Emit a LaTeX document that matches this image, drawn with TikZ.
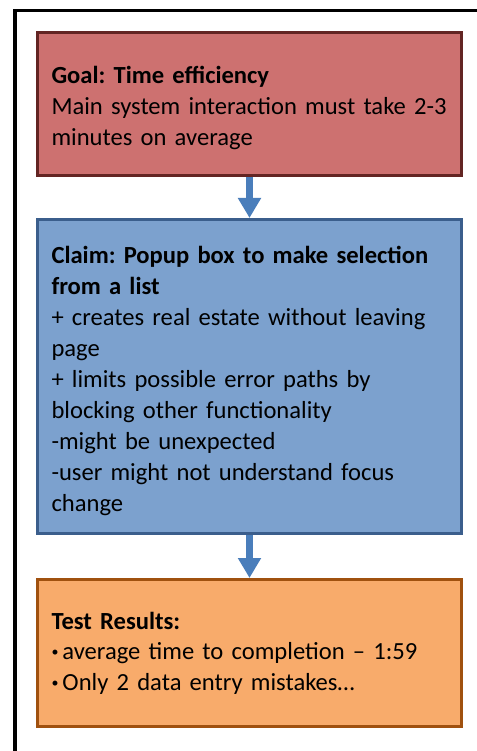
\documentclass[tikz,border=0pt]{standalone}
\usepackage{fontspec}
\setmainfont{Carlito}
\usetikzlibrary{arrows.meta}
\frenchspacing
\definecolor{redfill}{HTML}{CD7170}
\definecolor{redline}{HTML}{632523}
\definecolor{bluefill}{HTML}{7CA1CE}
\definecolor{blueline}{HTML}{3B5E8C}
\definecolor{orangefill}{HTML}{F8AB6B}
\definecolor{orangeline}{HTML}{A0510F}
\definecolor{arrowblue}{HTML}{4A7EBB}
\newcommand{\smallbul}{{\fontsize{14}{14}\selectfont\raisebox{3pt}{•}}\hspace{4pt}}
\tikzset{
  card/.style={rectangle, line width=3pt, minimum width=424pt, text width=396pt,
    inner xsep=14pt, inner ysep=0pt, align=left, anchor=center,
    font=\fontsize{24.6}{31}\selectfont},
  flowarrow/.style={draw=arrowblue, line width=7.5pt,
    -{Triangle[width=22pt,length=20pt]}},
  frame/.style={line width=3.5pt, black}
}
\begin{document}
\begin{tikzpicture}[x=1pt,y=-1pt]
\useasboundingbox (0,0) rectangle (476,751);
\coordinate (fb) at (15,753);
\coordinate (fc) at (15,10.5);
\coordinate (fr) at (478,10.5);
\draw[frame] (fb) -- (fc) -- (fr);
\node[card, fill=redfill, draw=redline, minimum height=143pt] (goal) at (249.5,104)
  {\rule{0pt}{26pt}\textbf{Goal: Time efficiency}\\Main system interaction must take 2-3\\minutes on average};
\node[card, fill=bluefill, draw=blueline, minimum height=314pt] (claim) at (249.5,376.5)
  {\rule{0pt}{27pt}\textbf{Claim: Popup box to make selection}\\\textbf{from a list}\\+ creates real estate without leaving\\page\\+ limits possible error paths by\\blocking other functionality\\-might be unexpected\\-user might not understand focus\\change};
\node[card, fill=orangefill, draw=orangeline, minimum height=147pt,
  font=\fontsize{24.6}{30.5}\selectfont] (test) at (249.5,653)
  {\textbf{Test Results:}\\\smallbul average time to completion -- 1:59\\\smallbul Only 2 data entry mistakes…};
\draw[flowarrow] (goal.south) -- (claim.north);
\draw[flowarrow] (claim.south) -- (test.north);
\end{tikzpicture}
\end{document}
